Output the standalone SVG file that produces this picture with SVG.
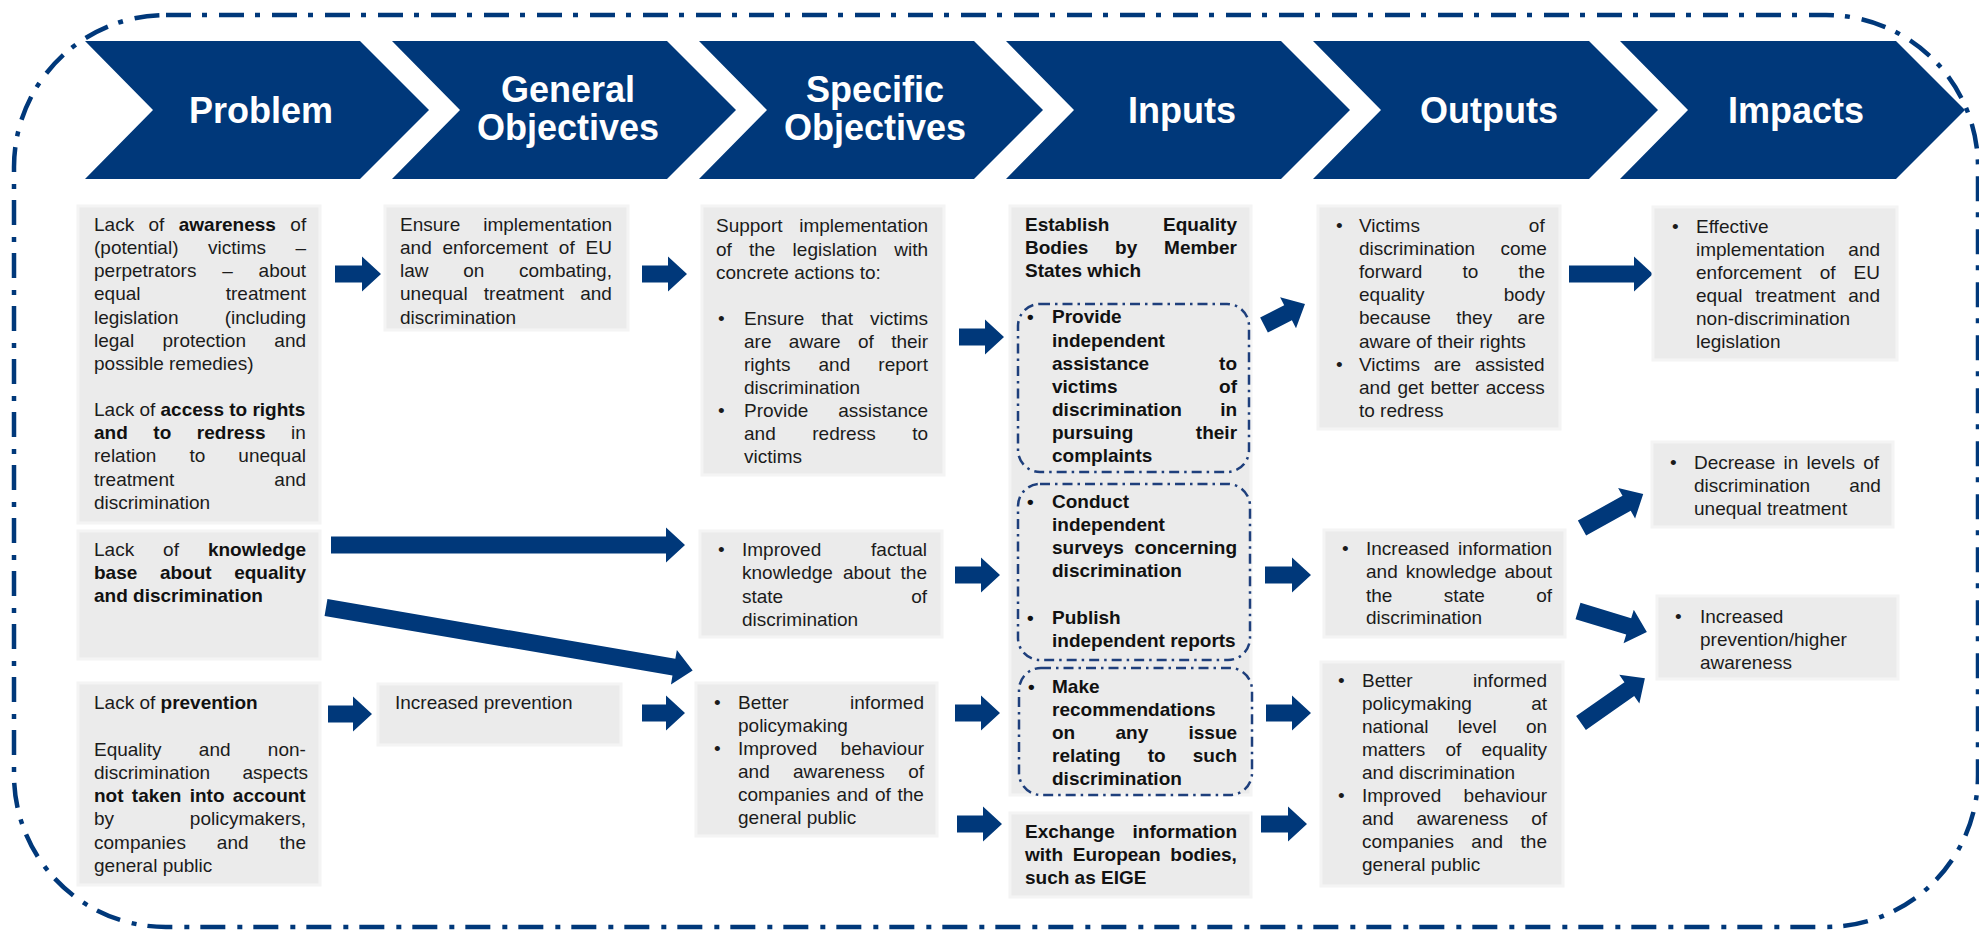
<svg xmlns="http://www.w3.org/2000/svg" width="1979" height="930" viewBox="0 0 1979 930">
<style>
.t{font-family:"Liberation Sans",Arial,sans-serif;font-size:19px;fill:#1b1b1b}
.b{font-weight:bold;fill:#111}
.h{font-family:"Liberation Sans",Arial,sans-serif;font-size:36px;font-weight:bold;fill:#fff;text-anchor:middle}
.box{fill:#ebebeb;stroke:#f4f4f4;stroke-width:3}
.chev{fill:#00387a}
.arr{fill:#00387a}
.dd{fill:none;stroke:#1e3f7c;stroke-width:2.5;stroke-dasharray:10 5 2.5 5}
.outer{fill:none;stroke:#00387a;stroke-width:4.5;stroke-dasharray:25 11 5 12}
</style>
<rect width="1979" height="930" fill="#fff"/>
<rect class="outer" x="14" y="15" width="1964" height="912" rx="152" ry="152"/>

<g id="headers">
<g id="h-problem"><path class="chev" d="M85,41 H360 L429,110 L360,179 H85 L153,110 Z"/><text class="h" x="261" y="123">Problem</text></g>
<g id="h-general"><path class="chev" d="M392,41 H667 L736,110 L667,179 H392 L460,110 Z"/><text class="h" x="568" y="102">General</text><text class="h" x="568" y="140">Objectives</text></g>
<g id="h-specific"><path class="chev" d="M699,41 H974 L1043,110 L974,179 H699 L767,110 Z"/><text class="h" x="875" y="102">Specific</text><text class="h" x="875" y="140">Objectives</text></g>
<g id="h-inputs"><path class="chev" d="M1006,41 H1281 L1350,110 L1281,179 H1006 L1074,110 Z"/><text class="h" x="1182" y="123">Inputs</text></g>
<g id="h-outputs"><path class="chev" d="M1313,41 H1589 L1658,110 L1589,179 H1313 L1381,110 Z"/><text class="h" x="1489" y="123">Outputs</text></g>
<g id="h-impacts"><path class="chev" d="M1620,41 H1896 L1965,110 L1896,179 H1620 L1688,110 Z"/><text class="h" x="1796" y="123">Impacts</text></g>
</g>

<g id="connectors">
<path class="arr" d="M335,265.5 H362 V256.5 L381,274 L362,291.5 V282.5 H335 Z"/>
<path class="arr" d="M642,265.5 H668 V256.5 L687,274 L668,291.5 V282.5 H642 Z"/>
<path class="arr" d="M331,536.5 H666 V527.5 L685,545 L666,562.5 V553.5 H331 Z"/>
<path class="arr" transform="translate(326,607.5) rotate(9.74)" d="M0,-8.5 H353 V-17.5 L372,0 L353,17.5 V8.5 H0 Z"/>
<path class="arr" d="M328,705.5 H353 V696.5 L372,714 L353,731.5 V722.5 H328 Z"/>
<path class="arr" d="M642,704.5 H666 V695.5 L685,713 L666,730.5 V721.5 H642 Z"/>
<path class="arr" d="M959,328.5 H985 V319.5 L1004,337 L985,354.5 V345.5 H959 Z"/>
<path class="arr" d="M955,566.5 H981 V557.5 L1000,575 L981,592.5 V583.5 H955 Z"/>
<path class="arr" d="M955,704.5 H981 V695.5 L1000,713 L981,730.5 V721.5 H955 Z"/>
<path class="arr" d="M957,815.5 H983 V806.5 L1002,824 L983,841.5 V832.5 H957 Z"/>
<path class="arr" transform="translate(1264,325) rotate(-27)" d="M0,-8.5 H27 V-17.5 L46,0 L27,17.5 V8.5 H0 Z"/>
<path class="arr" d="M1265,566.5 H1292 V557.5 L1311,575 L1292,592.5 V583.5 H1265 Z"/>
<path class="arr" d="M1266,704.5 H1292 V695.5 L1311,713 L1292,730.5 V721.5 H1266 Z"/>
<path class="arr" d="M1261,815.5 H1288 V806.5 L1307,824 L1288,841.5 V832.5 H1261 Z"/>
<path class="arr" d="M1569,265.5 H1634 V256.5 L1653,274 L1634,291.5 V282.5 H1569 Z"/>
<path class="arr" transform="translate(1582,528) rotate(-29)" d="M0,-8.5 H51 V-17.5 L70,0 L51,17.5 V8.5 H0 Z"/>
<path class="arr" transform="translate(1578,611) rotate(17)" d="M0,-8.5 H53 V-17.5 L72,0 L53,17.5 V8.5 H0 Z"/>
<path class="arr" transform="translate(1581,723) rotate(-35)" d="M0,-8.5 H59 V-17.5 L78,0 L59,17.5 V8.5 H0 Z"/>
</g>

<g id="p1">
<rect class="box" x="78" y="206" width="242" height="317"/>
<text class="t" x="94" y="231" style="word-spacing:9.1px">Lack of <tspan class="b">awareness</tspan> of</text>
<text class="t" x="94" y="254" style="word-spacing:24.2px">(potential) victims –</text>
<text class="t" x="94" y="277" style="word-spacing:20.5px">perpetrators – about</text>
<text class="t" x="94" y="300" style="word-spacing:80px">equal treatment</text>
<text class="t" x="94" y="324" style="word-spacing:40.9px">legislation (including</text>
<text class="t" x="94" y="347" style="word-spacing:23.1px">legal protection and</text>
<text class="t" x="94" y="370">possible remedies)</text>
<text class="t" x="94" y="416">Lack of <tspan class="b">access to rights</tspan></text>
<text class="t" x="94" y="439" style="word-spacing:20.3px"><tspan class="b">and to redress</tspan> in</text>
<text class="t" x="94" y="462" style="word-spacing:27.8px">relation to unequal</text>
<text class="t" x="94" y="486" style="word-spacing:94.8px">treatment and</text>
<text class="t" x="94" y="509">discrimination</text>
</g>

<g id="p2">
<rect class="box" x="78" y="531" width="242" height="128"/>
<text class="t" x="94" y="556" style="word-spacing:23.7px">Lack of <tspan class="b">knowledge</tspan></text>
<text class="t b" x="94" y="579" style="word-spacing:17.3px">base about equality</text>
<text class="t b" x="94" y="602">and discrimination</text>
</g>

<g id="p3">
<rect class="box" x="78" y="683" width="242" height="202"/>
<text class="t" x="94" y="709">Lack of <tspan class="b">prevention</tspan></text>
<text class="t" x="94" y="756" style="word-spacing:32px">Equality and non-</text>
<text class="t" x="94" y="779" style="word-spacing:27px">discrimination aspects</text>
<text class="t b" x="94" y="802" style="word-spacing:3px">not taken into account</text>
<text class="t" x="94" y="825" style="word-spacing:70.5px">by policymakers,</text>
<text class="t" x="94" y="849" style="word-spacing:25.7px">companies and the</text>
<text class="t" x="94" y="872">general public</text>
</g>

<g id="g1">
<rect class="box" x="385" y="206" width="243" height="124"/>
<text class="t" x="400" y="231" style="word-spacing:17.7px">Ensure implementation</text>
<text class="t" x="400" y="254" style="word-spacing:5.5px">and enforcement of EU</text>
<text class="t" x="400" y="277" style="word-spacing:29.4px">law on combating,</text>
<text class="t" x="400" y="300" style="word-spacing:10.9px">unequal treatment and</text>
<text class="t" x="400" y="324">discrimination</text>
</g>

<g id="g2">
<rect class="box" x="378" y="684" width="243" height="61"/>
<text class="t" x="395" y="709">Increased prevention</text>
</g>

<g id="s1">
<rect class="box" x="702" y="206" width="242" height="269"/>
<text class="t" x="716" y="232" style="word-spacing:11.4px">Support implementation</text>
<text class="t" x="716" y="256" style="word-spacing:11.9px">of the legislation with</text>
<text class="t" x="716" y="279">concrete actions to:</text>
<text class="t" x="718" y="325">•</text>
<text class="t" x="744" y="325" style="word-spacing:11.8px">Ensure that victims</text>
<text class="t" x="744" y="348" style="word-spacing:12.1px">are aware of their</text>
<text class="t" x="744" y="371" style="word-spacing:22.8px">rights and report</text>
<text class="t" x="744" y="394">discrimination</text>
<text class="t" x="718" y="417">•</text>
<text class="t" x="744" y="417" style="word-spacing:24.6px">Provide assistance</text>
<text class="t" x="744" y="440" style="word-spacing:31.3px">and redress to</text>
<text class="t" x="744" y="463">victims</text>
</g>

<g id="s2">
<rect class="box" x="700" y="531" width="242" height="106"/>
<text class="t" x="718" y="556">•</text>
<text class="t" x="742" y="556" style="word-spacing:44.6px">Improved factual</text>
<text class="t" x="742" y="579" style="word-spacing:4.8px">knowledge about the</text>
<text class="t" x="742" y="603" style="word-spacing:122.7px">state of</text>
<text class="t" x="742" y="626">discrimination</text>
</g>

<g id="s3">
<rect class="box" x="696" y="683" width="241" height="153"/>
<text class="t" x="714" y="709">•</text>
<text class="t" x="738" y="709" style="word-spacing:56.1px">Better informed</text>
<text class="t" x="738" y="732">policymaking</text>
<text class="t" x="714" y="755">•</text>
<text class="t" x="738" y="755" style="word-spacing:18.1px">Improved behaviour</text>
<text class="t" x="738" y="778" style="word-spacing:18px">and awareness of</text>
<text class="t" x="738" y="801" style="word-spacing:1.4px">companies and of the</text>
<text class="t" x="738" y="824">general public</text>
</g>

<g id="i1">
<rect class="box" x="1010" y="206" width="241" height="589"/>
<text class="t b" x="1025" y="231" style="word-spacing:48.3px">Establish Equality</text>
<text class="t b" x="1025" y="254" style="word-spacing:21.5px">Bodies by Member</text>
<text class="t b" x="1025" y="277">States which</text>
<rect class="dd" x="1018" y="304" width="231" height="168" rx="22"/>
<text class="t b" x="1027" y="323">•</text>
<text class="t b" x="1052" y="323">Provide</text>
<text class="t b" x="1052" y="347">independent</text>
<text class="t b" x="1052" y="370" style="word-spacing:64.6px">assistance to</text>
<text class="t b" x="1052" y="393" style="word-spacing:96.3px">victims of</text>
<text class="t b" x="1052" y="416" style="word-spacing:33px">discrimination in</text>
<text class="t b" x="1052" y="439" style="word-spacing:57.3px">pursuing their</text>
<text class="t b" x="1052" y="462">complaints</text>
<rect class="dd" x="1018" y="484" width="232" height="176" rx="22"/>
<text class="t b" x="1027" y="508">•</text>
<text class="t b" x="1052" y="508">Conduct</text>
<text class="t b" x="1052" y="531">independent</text>
<text class="t b" x="1052" y="554" style="word-spacing:5.5px">surveys concerning</text>
<text class="t b" x="1052" y="577">discrimination</text>
<text class="t b" x="1027" y="624">•</text>
<text class="t b" x="1052" y="624">Publish</text>
<text class="t b" x="1052" y="647">independent reports</text>
<rect class="dd" x="1019" y="668" width="233" height="127" rx="22"/>
<text class="t b" x="1028" y="693">•</text>
<text class="t b" x="1052" y="693">Make</text>
<text class="t b" x="1052" y="716">recommendations</text>
<text class="t b" x="1052" y="739" style="word-spacing:35px">on any issue</text>
<text class="t b" x="1052" y="762" style="word-spacing:21.8px">relating to such</text>
<text class="t b" x="1052" y="785">discrimination</text>
</g>

<g id="i2">
<rect class="box" x="1010" y="813" width="241" height="84"/>
<text class="t b" x="1025" y="838" style="word-spacing:12.5px">Exchange information</text>
<text class="t b" x="1025" y="861" style="word-spacing:4.6px">with European bodies,</text>
<text class="t b" x="1025" y="884">such as EIGE</text>
</g>

<g id="o1">
<rect class="box" x="1318" y="206" width="242" height="223"/>
<text class="t" x="1336" y="232">•</text>
<text class="t" x="1359" y="232" style="word-spacing:103.7px">Victims of</text>
<text class="t" x="1359" y="255" style="word-spacing:20px">discrimination come</text>
<text class="t" x="1359" y="278" style="word-spacing:34.9px">forward to the</text>
<text class="t" x="1359" y="301" style="word-spacing:74px">equality body</text>
<text class="t" x="1359" y="324" style="word-spacing:20.1px">because they are</text>
<text class="t" x="1359" y="348">aware of their rights</text>
<text class="t" x="1336" y="371">•</text>
<text class="t" x="1359" y="371" style="word-spacing:8.5px">Victims are assisted</text>
<text class="t" x="1359" y="394" style="word-spacing:1.4px">and get better access</text>
<text class="t" x="1359" y="417">to redress</text>
</g>

<g id="o2">
<rect class="box" x="1324" y="530" width="241" height="107"/>
<text class="t" x="1342" y="555">•</text>
<text class="t" x="1366" y="555" style="word-spacing:3.3px">Increased information</text>
<text class="t" x="1366" y="578" style="word-spacing:2.7px">and knowledge about</text>
<text class="t" x="1366" y="602" style="word-spacing:46px">the state of</text>
<text class="t" x="1366" y="624">discrimination</text>
</g>

<g id="o3">
<rect class="box" x="1321" y="662" width="242" height="224"/>
<text class="t" x="1338" y="687">•</text>
<text class="t" x="1362" y="687" style="word-spacing:55.1px">Better informed</text>
<text class="t" x="1362" y="710" style="word-spacing:54.1px">policymaking at</text>
<text class="t" x="1362" y="733" style="word-spacing:23.9px">national level on</text>
<text class="t" x="1362" y="756" style="word-spacing:14.9px">matters of equality</text>
<text class="t" x="1362" y="779">and discrimination</text>
<text class="t" x="1338" y="802">•</text>
<text class="t" x="1362" y="802" style="word-spacing:17.1px">Improved behaviour</text>
<text class="t" x="1362" y="825" style="word-spacing:17.5px">and awareness of</text>
<text class="t" x="1362" y="848" style="word-spacing:12.2px">companies and the</text>
<text class="t" x="1362" y="871">general public</text>
</g>

<g id="m1">
<rect class="box" x="1653" y="207" width="244" height="153"/>
<text class="t" x="1672" y="233">•</text>
<text class="t" x="1696" y="233">Effective</text>
<text class="t" x="1696" y="256" style="word-spacing:18.2px">implementation and</text>
<text class="t" x="1696" y="279" style="word-spacing:12.8px">enforcement of EU</text>
<text class="t" x="1696" y="302" style="word-spacing:7.5px">equal treatment and</text>
<text class="t" x="1696" y="325">non-discrimination</text>
<text class="t" x="1696" y="348">legislation</text>
</g>

<g id="m2">
<rect class="box" x="1652" y="442" width="241" height="85"/>
<text class="t" x="1670" y="469">•</text>
<text class="t" x="1694" y="469" style="word-spacing:2.9px">Decrease in levels of</text>
<text class="t" x="1694" y="492" style="word-spacing:33.8px">discrimination and</text>
<text class="t" x="1694" y="515">unequal treatment</text>
</g>

<g id="m3">
<rect class="box" x="1657" y="596" width="241" height="83"/>
<text class="t" x="1675" y="623">•</text>
<text class="t" x="1700" y="623">Increased</text>
<text class="t" x="1700" y="646">prevention/higher</text>
<text class="t" x="1700" y="669">awareness</text>
</g>
</svg>
